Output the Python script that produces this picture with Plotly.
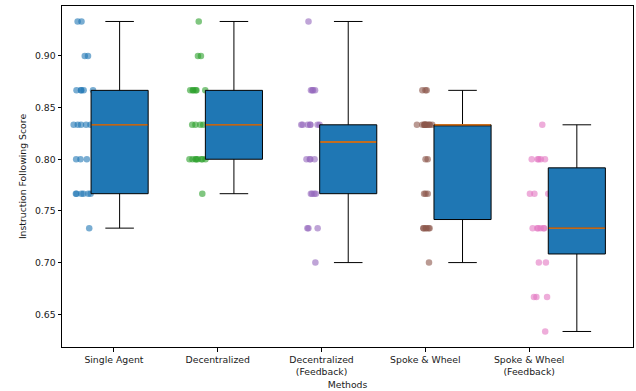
import numpy as np
import plotly.graph_objects as go

methods = ["Single Agent", "Decentralized", "Decentralized<br>(Feedback)",
           "Spoke & Wheel", "Spoke & Wheel<br>(Feedback)"]

single_agent = [0.733333] + [0.766667]*6 + [0.8]*3 + [0.833333]*5 + [0.866667]*5 + [0.9]*2 + [0.933333]*2
decentralized = [0.766667] + [0.8]*8 + [0.833333]*4 + [0.866667]*6 + [0.9]*2 + [0.933333]
decentralized_fb = [0.7] + [0.733333]*3 + [0.766667]*4 + [0.8]*4 + [0.833333]*7 + [0.866667]*4 + [0.933333]
spoke_wheel = [0.7] + [0.733333]*6 + [0.766667]*3 + [0.8]*2 + [0.833333]*11 + [0.866667]*3
spoke_wheel_fb = [0.633333] + [0.666667]*3 + [0.7]*2 + [0.733333]*6 + [0.766667]*4 + [0.8]*5 + [0.833333]

series = [single_agent, decentralized, decentralized_fb, spoke_wheel, spoke_wheel_fb]
point_colors = ["#1f77b4", "#2ca02c", "#9467bd", "#8c564b", "#e377c2"]

BOX_W = 0.55
FONT = "DejaVu Sans"
FS = 9.3
TXT = "#1a1a1a"

fig = go.Figure()

box_centers = [i + 0.055 + 0.101 * i for i in range(len(series))]
point_centers = [c - 0.345 for c in box_centers]

# jittered points
for vals, pc, col in zip(series, point_centers, point_colors):
    fig.add_trace(go.Box(
        x=[pc] * len(vals), y=vals, boxpoints="all", jitter=1.0, pointpos=0,
        width=0.22, fillcolor="rgba(0,0,0,0)", line=dict(width=0, color="rgba(0,0,0,0)"),
        marker=dict(color=col, opacity=0.6, size=6.5, line=dict(width=0)),
        hoverinfo="skip", showlegend=False))

# boxes
for vals, bc in zip(series, box_centers):
    a = np.array(vals)
    q1, med, q3 = np.percentile(a, [25, 50, 75])
    iqr = q3 - q1
    lo = a[a >= q1 - 1.5 * iqr - 1e-5].min()
    hi = a[a <= q3 + 1.5 * iqr + 1e-5].max()
    fig.add_trace(go.Box(
        x=[bc], q1=[q1], median=[med], q3=[q3], lowerfence=[lo], upperfence=[hi],
        width=BOX_W, whiskerwidth=0.5, fillcolor="#1f77b4",
        line=dict(color="black", width=1), boxpoints=False,
        hoverinfo="skip", showlegend=False))
    fig.add_trace(go.Scatter(
        x=[bc - BOX_W / 2 + 0.005, bc + BOX_W / 2 - 0.005], y=[med, med], mode="lines",
        line=dict(color="#ff7f0e", width=1.3), hoverinfo="skip", showlegend=False))

axis_common = dict(showline=True, mirror=True, linecolor="black", linewidth=1,
                   ticks="outside", ticklen=3.5, tickwidth=0.8, tickcolor="black",
                   showgrid=False, zeroline=False,
                   tickfont=dict(family=FONT, size=FS, color=TXT))

fig.update_layout(
    width=636, height=391,
    margin=dict(l=62, r=3, t=6, b=44),
    paper_bgcolor="white", plot_bgcolor="white",
    font=dict(family=FONT, size=FS, color=TXT),
    showlegend=False, boxmode="overlay",
    xaxis=dict(range=[-0.5, 5.0], tickmode="array", tickvals=list(range(5)),
               ticktext=methods,
               title=dict(text="Methods", font=dict(family=FONT, size=FS, color=TXT), standoff=5),
               **axis_common),
    yaxis=dict(range=[0.6183, 0.9483], tickmode="linear", tick0=0.65, dtick=0.05,
               tickformat=".2f",
               title=dict(text="Instruction Following Score", font=dict(family=FONT, size=FS, color=TXT), standoff=6),
               **axis_common),
)

fig.write_html("out.html")
